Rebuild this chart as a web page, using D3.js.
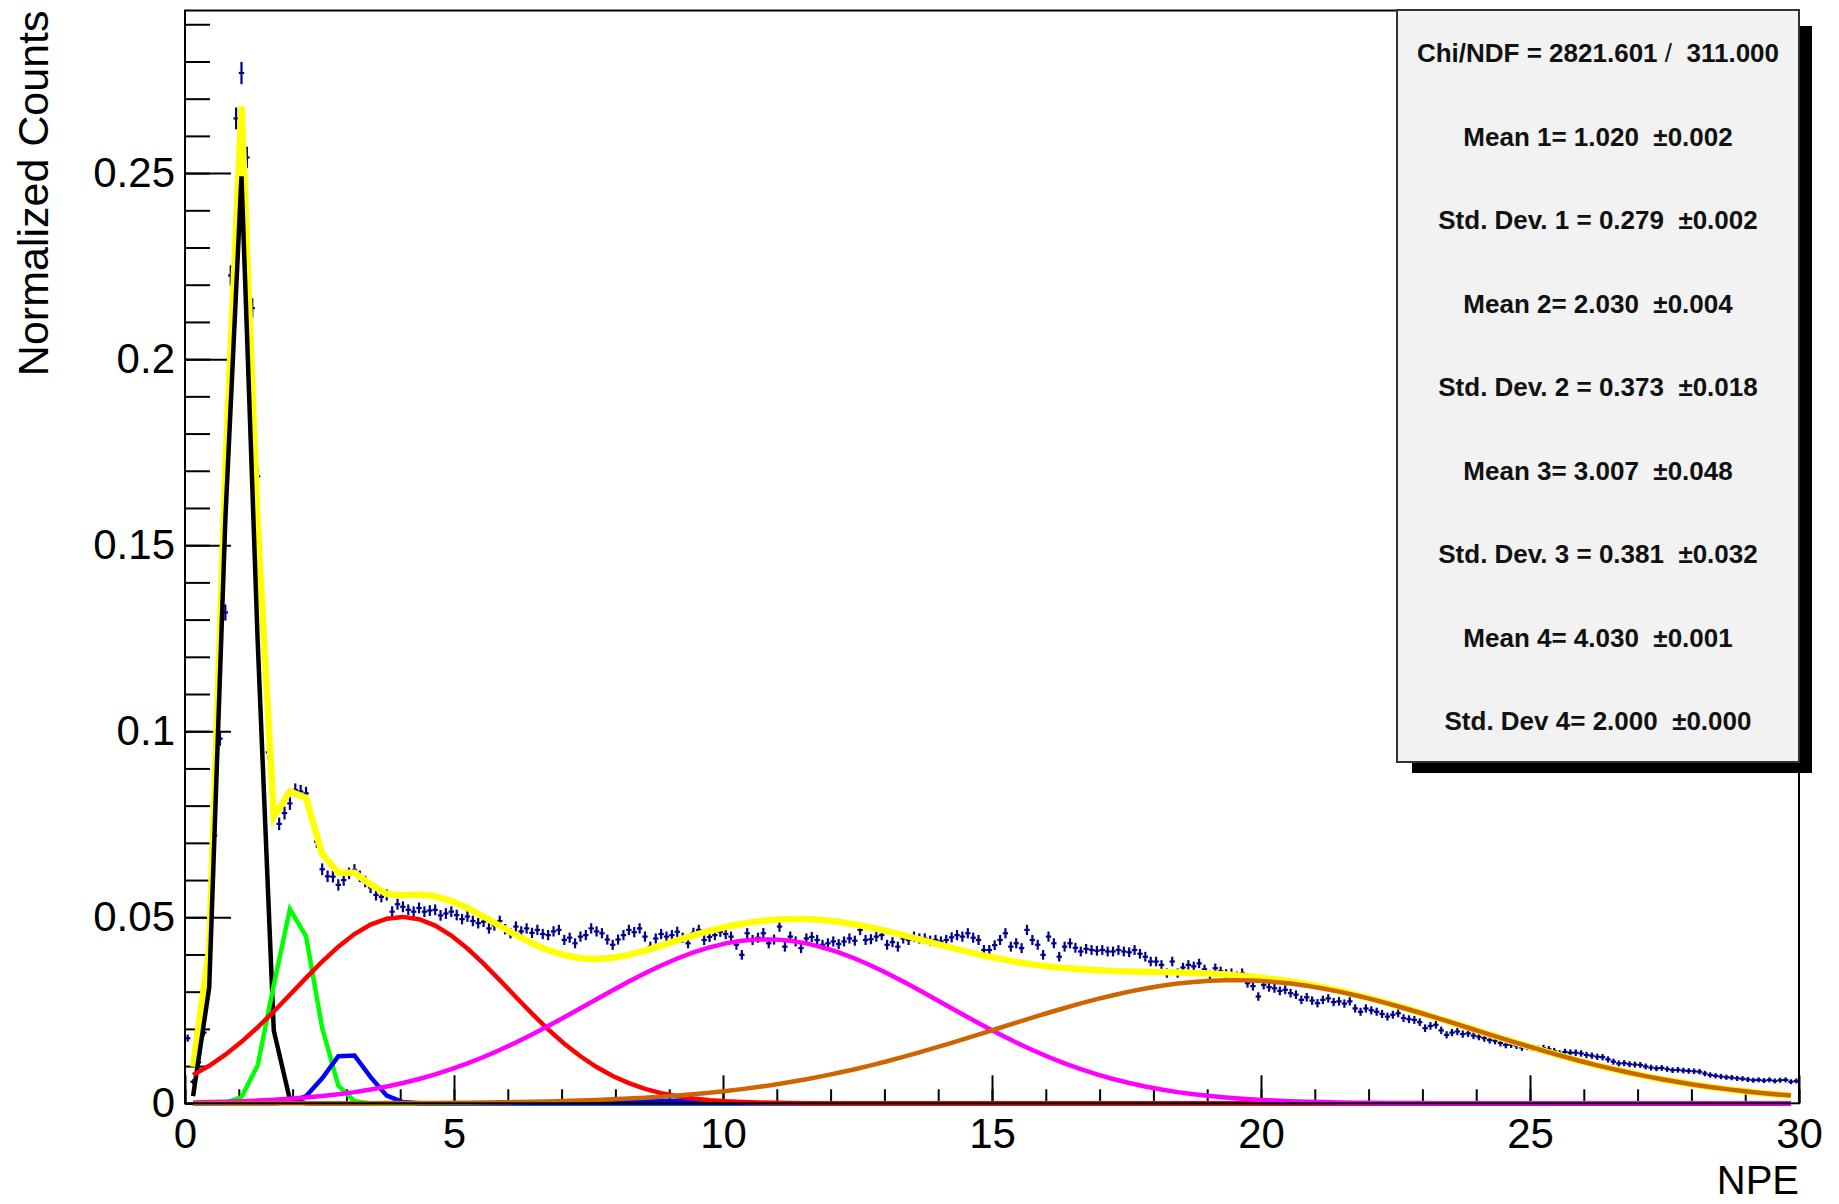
<!DOCTYPE html>
<html>
<head>
<meta charset="utf-8">
<script src="https://cdn.jsdelivr.net/npm/d3@7"></script>
<style>
body { margin: 0; background: #fff; }
text { font-family: "Liberation Sans", Arial, Helvetica, sans-serif; }
</style>
</head>
<body>
<div id="chart"></div>
<script>
// histogram: NPE bins of 0.1 from 0 to 30, normalized counts
var binLo = 0, binWidth = 0.1;
var counts = [
  0.0175, 0.0058, 0.0110, 0.0190, 0.0440, 0.0720, 0.0980, 0.1319, 0.2225, 0.2647,
  0.2769, 0.2542, 0.2137, 0.1685, 0.1280, 0.0943, 0.0791, 0.0751, 0.0780, 0.0806,
  0.0842, 0.0838, 0.0833, 0.0770, 0.0703, 0.0629, 0.0610, 0.0609, 0.0587, 0.0600,
  0.0618, 0.0627, 0.0610, 0.0596, 0.0580, 0.0560, 0.0555, 0.0560, 0.0515, 0.0535,
  0.0528, 0.0520, 0.0515, 0.0525, 0.0515, 0.0518, 0.0520, 0.0505, 0.0510, 0.0515,
  0.0506, 0.0495, 0.0502, 0.0490, 0.0484, 0.0488, 0.0470, 0.0478, 0.0490, 0.0468,
  0.0457, 0.0475, 0.0462, 0.0470, 0.0458, 0.0466, 0.0455, 0.0452, 0.0462, 0.0466,
  0.0439, 0.0445, 0.0430, 0.0448, 0.0452, 0.0470, 0.0462, 0.0457, 0.0440, 0.0426,
  0.0440, 0.0452, 0.0466, 0.0460, 0.0470, 0.0448, 0.0421, 0.0443, 0.0455, 0.0448,
  0.0452, 0.0461, 0.0445, 0.0430, 0.0458, 0.0466, 0.0439, 0.0447, 0.0452, 0.0461,
  0.0455, 0.0448, 0.0426, 0.0399, 0.0457, 0.0439, 0.0445, 0.0457, 0.0430, 0.0440,
  0.0475, 0.0421, 0.0448, 0.0435, 0.0417, 0.0443, 0.0447, 0.0439, 0.0426, 0.0430,
  0.0435, 0.0428, 0.0435, 0.0443, 0.0437, 0.0466, 0.0439, 0.0441, 0.0448, 0.0452,
  0.0426, 0.0433, 0.0421, 0.0443, 0.0439, 0.0448, 0.0443, 0.0443, 0.0437, 0.0439,
  0.0435, 0.0439, 0.0446, 0.0452, 0.0448, 0.0457, 0.0445, 0.0439, 0.0412, 0.0412,
  0.0425, 0.0439, 0.0457, 0.0421, 0.0430, 0.0417, 0.0466, 0.0439, 0.0426, 0.0399,
  0.0448, 0.0430, 0.0394, 0.0421, 0.0430, 0.0418, 0.0408, 0.0415, 0.0412, 0.0410,
  0.0412, 0.0408, 0.0408, 0.0412, 0.0408, 0.0406, 0.0412, 0.0402, 0.0394, 0.0381,
  0.0381, 0.0372, 0.0350, 0.0381, 0.0350, 0.0365, 0.0372, 0.0368, 0.0376, 0.0360,
  0.0345, 0.0363, 0.0355, 0.0348, 0.0350, 0.0342, 0.0350, 0.0323, 0.0315, 0.0287,
  0.0318, 0.0312, 0.0309, 0.0302, 0.0305, 0.0296, 0.0292, 0.0278, 0.0285, 0.0276,
  0.0269, 0.0278, 0.0282, 0.0272, 0.0274, 0.0268, 0.0274, 0.0255, 0.0246, 0.0255,
  0.0250, 0.0246, 0.0240, 0.0233, 0.0238, 0.0242, 0.0229, 0.0226, 0.0224, 0.0218,
  0.0202, 0.0208, 0.0211, 0.0196, 0.0184, 0.0190, 0.0193, 0.0186, 0.0188, 0.0182,
  0.0179, 0.0175, 0.0170, 0.0168, 0.0162, 0.0157, 0.0158, 0.0155, 0.0150, 0.0152,
  0.0149, 0.0146, 0.0148, 0.0145, 0.0140, 0.0134, 0.0138, 0.0136, 0.0136, 0.0134,
  0.0130, 0.0128, 0.0125, 0.0124, 0.0118, 0.0112, 0.0107, 0.0108, 0.0105, 0.0104,
  0.0103, 0.0099, 0.0096, 0.0094, 0.0095, 0.0092, 0.0089, 0.0090, 0.0088, 0.0087,
  0.0086, 0.0085, 0.0080, 0.0076, 0.0074, 0.0072, 0.0070, 0.0069, 0.0067, 0.0066,
  0.0064, 0.0062, 0.0063, 0.0061, 0.0063, 0.0060, 0.0062, 0.0063, 0.0058, 0.0060
];
var errScale = 0.0052; // error bar ~ sqrt(content)

// fit components (gaussians): amplitude, mean, sigma
var fitAmp   = [0.2506, 0.0534, 0.0138, 0.0009, 0.0501, 0.0441, 0.0331];
var fitMean  = [1.020,  2.030,  3.007,  9.2,    4.030,  10.8,   19.5];
var fitSigma = [0.279,  0.373,  0.381,  0.9,    2.000,  3.3,    4.4];
var fitColor = ["#000000", "#00ff00", "#0000ff", "#0000ff", "#ff0000", "#ff00ff", "#cc6600"];
var fitLo = 0.15, fitStep = 0.3, fitNpx = 100;

var statsLines = [
  ["Chi/NDF = 2821.601 ", "/", "  311.000"],
  ["Mean 1= 1.020  \u00b10.002"],
  ["Std. Dev. 1 = 0.279  \u00b10.002"],
  ["Mean 2= 2.030  \u00b10.004"],
  ["Std. Dev. 2 = 0.373  \u00b10.018"],
  ["Mean 3= 3.007  \u00b10.048"],
  ["Std. Dev. 3 = 0.381  \u00b10.032"],
  ["Mean 4= 4.030  \u00b10.001"],
  ["Std. Dev 4= 2.000  \u00b10.000"]
];

var W = 1839, H = 1204;
var fx0 = 185, fx1 = 1799, fy0 = 10.5, fy1 = 1103.3;

var svg = d3.select("#chart").append("svg")
    .attr("width", W)
    .attr("height", H);
svg.append("rect").attr("width", W).attr("height", H).attr("fill", "#fff");

var x = d3.scaleLinear().domain([0, 30]).range([fx0, fx1]);
var y = d3.scaleLinear().domain([0, 0.2937]).range([fy1, fy0]);

/* axes */
var yMinor = svg.append("g").attr("transform", "translate(" + fx0 + ",0)")
    .call(d3.axisLeft(y).tickValues(d3.range(0, 0.2905, 0.01)).tickSize(-25).tickFormat(""));
var yMajor = svg.append("g").attr("transform", "translate(" + fx0 + ",0)")
    .call(d3.axisLeft(y).tickValues([0, 0.05, 0.1, 0.15, 0.2, 0.25]).tickSize(-46).tickPadding(10)
      .tickFormat(function(d) { return d === 0 ? "0" : String(+d.toFixed(2)); }));
var xMinor = svg.append("g").attr("transform", "translate(0," + fy1 + ")")
    .call(d3.axisBottom(x).tickValues(d3.range(0, 31, 1)).tickSize(-14).tickFormat(""));
var xMajor = svg.append("g").attr("transform", "translate(0," + fy1 + ")")
    .call(d3.axisBottom(x).tickValues([0, 5, 10, 15, 20, 25, 30]).tickSize(-28).tickPadding(15)
      .tickFormat(function(d) { return d; }));

[yMinor, yMajor, xMinor, xMajor].forEach(function(a) {
  a.select(".domain").remove();
  a.selectAll(".tick line").attr("stroke", "#000").attr("stroke-width", 2);
  a.selectAll(".tick text").attr("fill", "#000").attr("font-size", 42)
    .attr("font-family", "'Liberation Sans', Arial, sans-serif");
});

/* histogram points with error bars */
var pts = counts.map(function(v, i) {
  return { c: binLo + (i + 0.5) * binWidth, v: v, e: errScale * Math.sqrt(v) };
});
var hist = svg.append("g").attr("stroke", "#00008b").attr("stroke-width", 2.2);
hist.selectAll("line.ey").data(pts).enter().append("line").attr("class", "ey")
    .attr("x1", function(d) { return x(d.c); })
    .attr("x2", function(d) { return x(d.c); })
    .attr("y1", function(d) { return y(d.v - d.e) + 1; })
    .attr("y2", function(d) { return y(d.v + d.e) - 1; });
hist.selectAll("line.ex").data(pts).enter().append("line").attr("class", "ex")
    .attr("x1", function(d) { return x(d.c - binWidth / 2); })
    .attr("x2", function(d) { return x(d.c + binWidth / 2); })
    .attr("y1", function(d) { return y(d.v); })
    .attr("y2", function(d) { return y(d.v); });

/* fit functions */
function gaus(k, t) {
  var z = (t - fitMean[k]) / fitSigma[k];
  return fitAmp[k] * Math.exp(-0.5 * z * z);
}
var fitX = d3.range(fitNpx).map(function(i) { return fitLo + i * fitStep; });
var line = d3.line().x(function(d) { return x(d[0]); }).y(function(d) { return y(d[1]); });

var total = fitX.map(function(t) {
  return [t, d3.sum(fitAmp, function(a, k) { return gaus(k, t); })];
});
svg.append("path").datum(total)
    .attr("d", line).attr("fill", "none")
    .attr("stroke", "#ffff00").attr("stroke-width", 6.5).attr("stroke-linejoin", "miter");

fitAmp.forEach(function(a, k) {
  svg.append("path").datum(fitX.map(function(t) { return [t, gaus(k, t)]; }))
      .attr("d", line).attr("fill", "none")
      .attr("stroke", fitColor[k]).attr("stroke-width", k === 3 ? 3 : 4.5)
      .attr("stroke-linejoin", "miter");
});

/* frame */
svg.append("rect")
    .attr("x", fx0).attr("y", fy0)
    .attr("width", fx1 - fx0).attr("height", fy1 - fy0)
    .attr("fill", "none").attr("stroke", "#000").attr("stroke-width", 2);

/* axis titles */
svg.append("text")
    .attr("transform", "translate(48," + fy0 + ") rotate(-90)")
    .attr("text-anchor", "end")
    .attr("font-size", 43)
    .text("Normalized Counts");
svg.append("text")
    .attr("x", fx1).attr("y", 1194)
    .attr("text-anchor", "end")
    .attr("font-size", 40)
    .text("NPE");

/* stats box */
var bx0 = 1397, by0 = 10, bx1 = 1799, by1 = 762;
svg.append("rect")
    .attr("x", bx0 + 15).attr("y", by0 + 16)
    .attr("width", bx1 - bx0 - 2).attr("height", by1 - by0 - 5)
    .attr("fill", "#000");
svg.append("rect")
    .attr("x", bx0).attr("y", by0)
    .attr("width", bx1 - bx0).attr("height", by1 - by0)
    .attr("fill", "#f2f2f2").attr("stroke", "#333").attr("stroke-width", 2);

var st = svg.append("g")
    .attr("font-size", 26).attr("font-weight", "bold")
    .attr("text-anchor", "middle").attr("fill", "#111");
statsLines.forEach(function(parts, i) {
  var t = st.append("text")
      .attr("x", (bx0 + bx1) / 2)
      .attr("y", 62 + i * 83.5)
      .attr("xml:space", "preserve")
      .style("white-space", "pre");
  parts.forEach(function(p) {
    var s = t.append("tspan").text(p);
    if (p === "/") s.attr("font-weight", "normal");
  });
});
</script>
</body>
</html>
